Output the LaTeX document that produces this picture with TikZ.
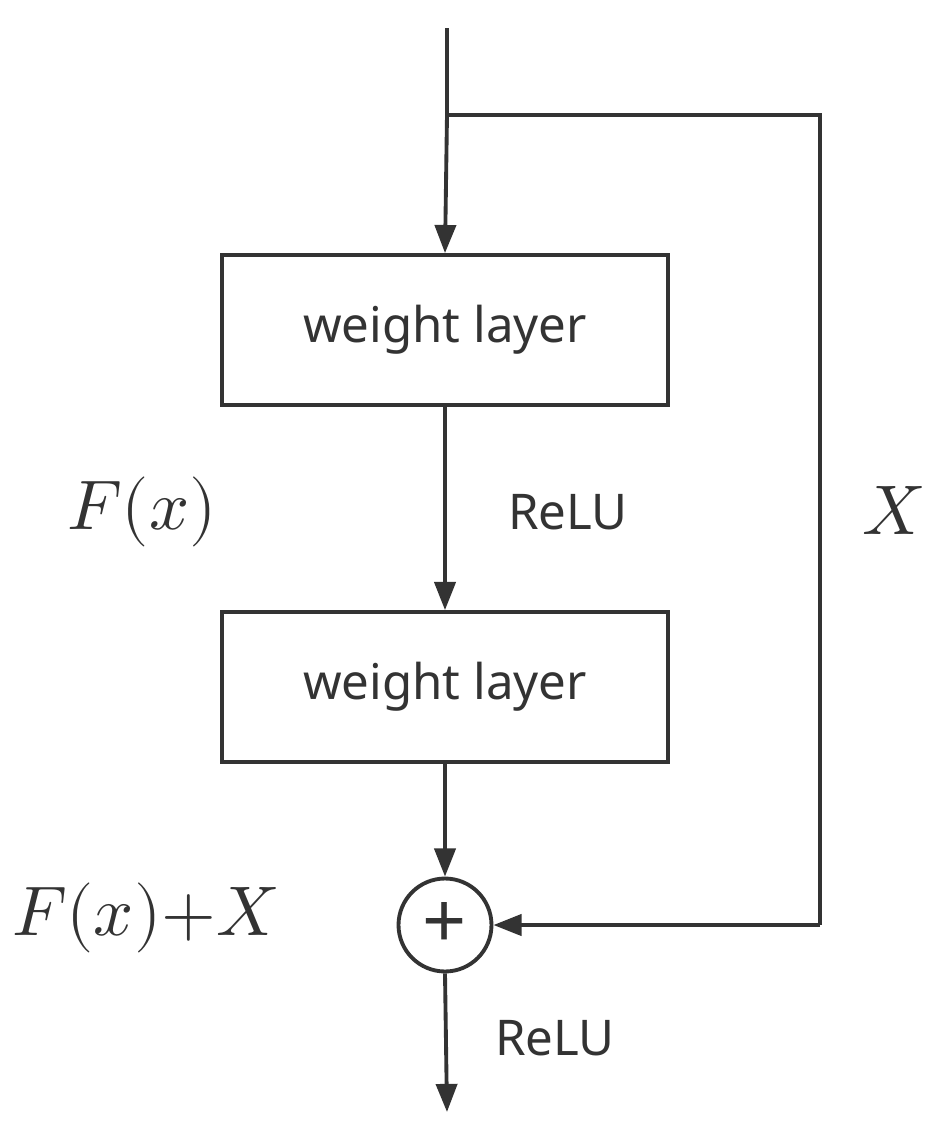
\documentclass[tikz,border=0pt]{standalone}
\usepackage{fontspec}
\setmainfont{Noto Sans}
\usepackage{unicode-math}
\setmathfont{Latin Modern Math}
\usetikzlibrary{arrows.meta}
\definecolor{ink}{HTML}{333333}
\begin{document}
\begin{tikzpicture}[x=0.02cm,y=-0.02cm,
  line/.style={draw=ink,line width=2.2pt},
  arr/.style={line,-{Triangle[length=16pt,width=12pt]}},
  box/.style={draw=ink,line width=2.2pt,minimum width=8.92cm,minimum height=3cm,font=\fontsize{28}{32}\selectfont,text=ink},
  lab/.style={font=\fontsize{28}{32}\selectfont,text=ink},
  mlab/.style={font=\fontsize{40}{44}\selectfont,text=ink}]
\useasboundingbox (0,0) rectangle (935,1143);
\coordinate (top) at (447,28);
\coordinate (br) at (447,115);
\coordinate (cr) at (820,115);
\coordinate (cb) at (820,925);
\coordinate (out) at (447,1112);
\node[box] (w1) at (445,330) {weight layer};
\node[box] (w2) at (445,687) {weight layer};
\node[circle,draw=ink,line width=2.2pt,minimum size=1.86cm,inner sep=0pt,font=\fontsize{44}{44}\selectfont,text=ink] (add) at (445,925) {+};
\draw[line] (top) -- (br);
\draw[arr] (br) -- (w1.north);
\draw[arr] (w1.south) -- (w2.north);
\draw[arr] (w2.south) -- (add.north);
\draw[line] (br) -- (cr) -- (cb);
\draw[arr] (cb) -- (add.east);
\draw[arr] (add.south) -- (out);
\node[lab] (r1) at (568,512) {ReLU};
\node[lab] (r2) at (555,1038) {ReLU};
\node[mlab] (fx) at (142,512) {$F(x)$};
\node[mlab] (x) at (893,510) {$X$};
\node[mlab] (fxx) at (145,918) {$F(x){+}X$};
\end{tikzpicture}
\end{document}
